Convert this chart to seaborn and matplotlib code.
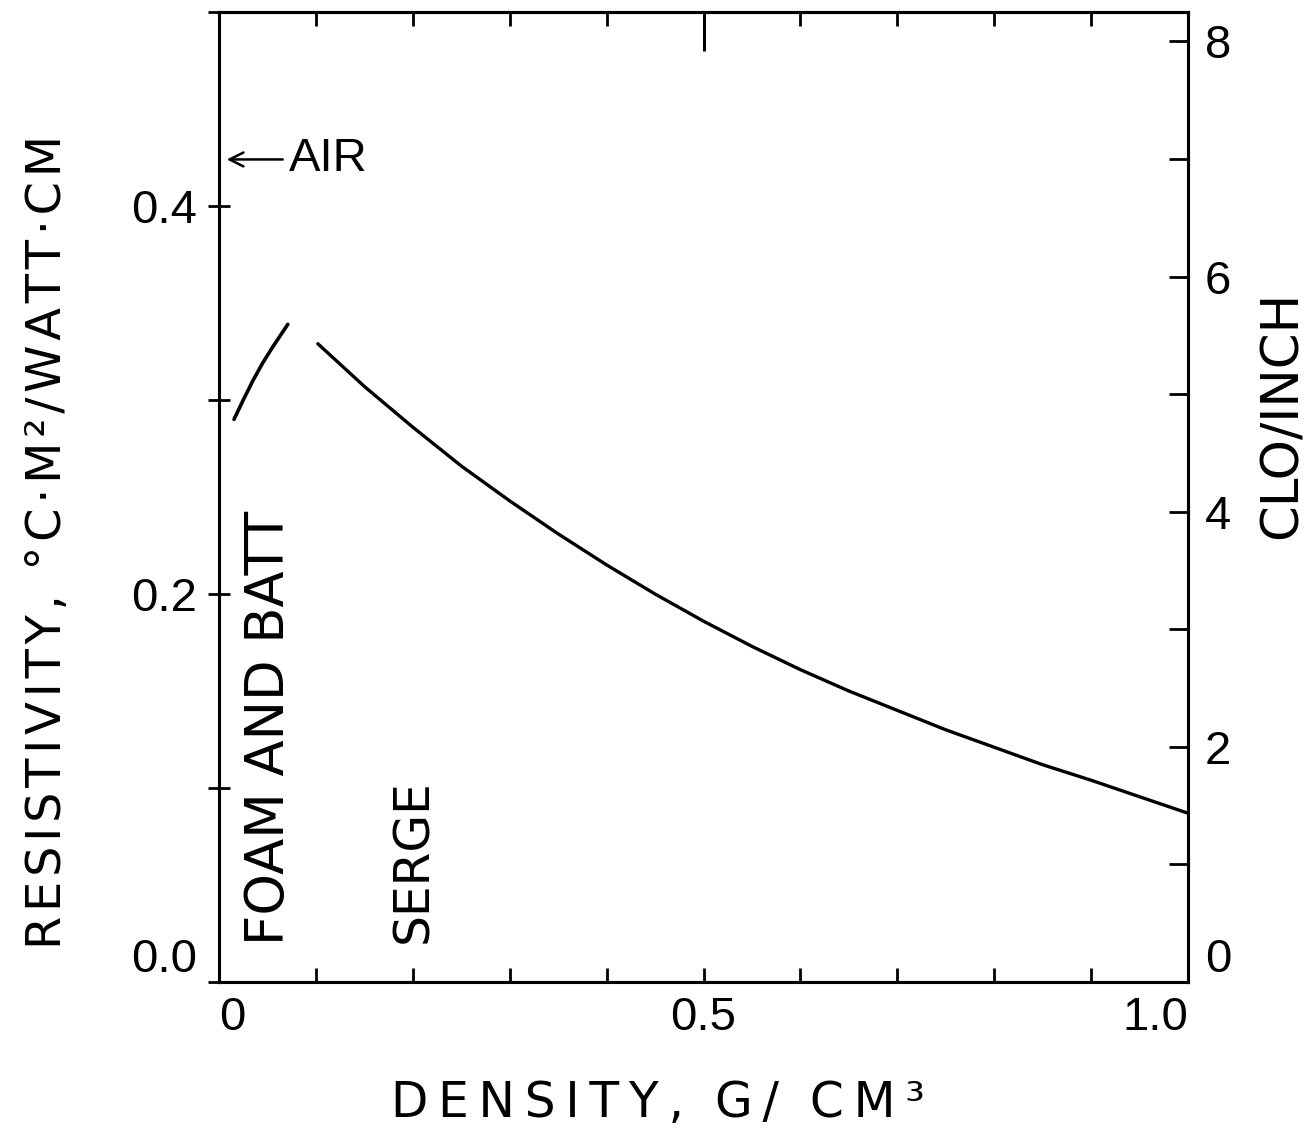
import matplotlib
matplotlib.use("Agg")
import matplotlib.pyplot as plt
import seaborn as sns
import pandas as pd
from matplotlib.ticker import MultipleLocator, FixedLocator

# ---- data ----
foam_density = [0.0155, 0.025, 0.035, 0.045, 0.055, 0.063, 0.071]
foam_resist = [0.290, 0.300, 0.310, 0.319, 0.327, 0.333, 0.339]

serge_density = [0.102, 0.15, 0.20, 0.25, 0.30, 0.35, 0.40, 0.45, 0.50, 0.55,
                 0.60, 0.65, 0.70, 0.75, 0.80, 0.85, 0.90, 0.95, 1.00]
serge_resist = [0.329, 0.307, 0.286, 0.266, 0.248, 0.231, 0.215, 0.200, 0.186, 0.173,
                0.161, 0.150, 0.140, 0.130, 0.121, 0.112, 0.104, 0.0955, 0.087]

x_ticks = [0.0, 0.5, 1.0]
x_tick_labels = ["0", "0.5", "1.0"]
y_ticks = [0.0, 0.2, 0.4]
y_tick_labels = ["0.0", "0.2", "0.4"]
clo_ticks = [0, 2, 4, 6, 8]
clo_tick_labels = ["0", "2", "4", "6", "8"]

air_value = 0.424

sns.set_style("ticks")
plt.rcParams["font.family"] = ["Liberation Sans", "DejaVu Sans"]
for k in ["text.color", "axes.edgecolor", "axes.labelcolor", "xtick.color", "ytick.color"]:
    plt.rcParams[k] = "black"

W, H = 1308, 1140
fig = plt.figure(figsize=(W / 100, H / 100), dpi=100)
L, R, T, B = 219, 1188, 12, 982
ax = fig.add_axes([L / W, 1 - B / H, (R - L) / W, (B - T) / H])

df_foam = pd.DataFrame({"density": foam_density, "resist": foam_resist})
df_serge = pd.DataFrame({"density": serge_density, "resist": serge_resist})
sns.lineplot(data=df_foam, x="density", y="resist", ax=ax, color="black", lw=2.6, sort=False)
sns.lineplot(data=df_serge, x="density", y="resist", ax=ax, color="black", lw=2.4, sort=False)

ax.set_xlim(0, 1.0)
ax.set_ylim(0, 0.5)
ax.set_xlabel("")
ax.set_ylabel("")
for s in ax.spines.values():
    s.set_linewidth(2.2)
    s.set_color("black")
    s.set_visible(True)

fs = 34
ax.set_xticks(x_ticks)
ax.set_xticklabels(x_tick_labels, fontsize=fs)
ax.xaxis.set_minor_locator(MultipleLocator(0.1))
ax.tick_params(axis="x", which="both", direction="in", length=10, width=2, pad=10,
               bottom=True, top=False)
xl = ax.get_xticklabels()
xl[0].set_ha("left")
xl[-1].set_ha("right")

ax.set_yticks(y_ticks)
ax.set_yticklabels(y_tick_labels, fontsize=fs)
ax.yaxis.set_minor_locator(MultipleLocator(0.1))
ax.tick_params(axis="y", which="both", direction="inout", length=16, width=2, pad=8,
               left=True, right=False)
ax.get_yticklabels()[0].set_va("bottom")

# top axis ticks (no labels), long one at 0.5
top = ax.secondary_xaxis("top")
top.xaxis.set_major_locator(FixedLocator([0.5]))
top.xaxis.set_minor_locator(MultipleLocator(0.1))
top.tick_params(which="major", direction="in", length=28, width=2.2, labeltop=False)
top.tick_params(which="minor", direction="in", length=10, width=2)
top.spines["top"].set_linewidth(2.2)

# right axis in clo/inch
ax2 = ax.twinx()
ax2.set_ylim(0, 8.25)
ax2.set_yticks(clo_ticks)
ax2.set_yticklabels(clo_tick_labels, fontsize=fs)
ax2.yaxis.set_minor_locator(MultipleLocator(1))
ax2.tick_params(axis="y", which="both", direction="in", length=14, width=2, pad=12)
ax2.get_yticklabels()[0].set_va("bottom")
for s in ax2.spines.values():
    s.set_linewidth(2.2)
ax2.grid(False)

# annotations
ax.annotate("AIR", xy=(0.008, air_value), xytext=(0.072, air_value),
            fontsize=fs, va="center", ha="left",
            arrowprops=dict(arrowstyle="->", lw=1.8, color="black",
                            shrinkA=2, shrinkB=0, mutation_scale=25))
dv = ["DejaVu Sans"]
ax.text(0.0517, 0.019, "FOAM AND BATT", rotation=90, fontsize=38, family=dv,
        ha="center", va="bottom")
ax.text(0.200, 0.020, "SERGE", rotation=90, fontsize=35, family=dv,
        ha="center", va="bottom")

# axis titles (letter-spaced like the hand lettering)
hs = "\u200a"
ts = "\u2009"
ylab = hs.join("RESISTIVITY, °C·M²/WATT·CM")
xlab = ts.join("DENSITY,") + "  " + ts.join("G/") + "  " + ts.join("CM³")
fig.text(48 / W, 1 - 542 / H, ylab, rotation=90, fontsize=34.5, family=dv,
         ha="center", va="center")
fig.text(1283 / W, 1 - 415 / H, "CLO/INCH", rotation=90, fontsize=37, family=dv,
         ha="center", va="center")
fig.text(658 / W, 1 - 1103 / H, xlab, fontsize=35, family=dv,
         ha="center", va="center")

fig.savefig("out.png", dpi=100, facecolor="white")
